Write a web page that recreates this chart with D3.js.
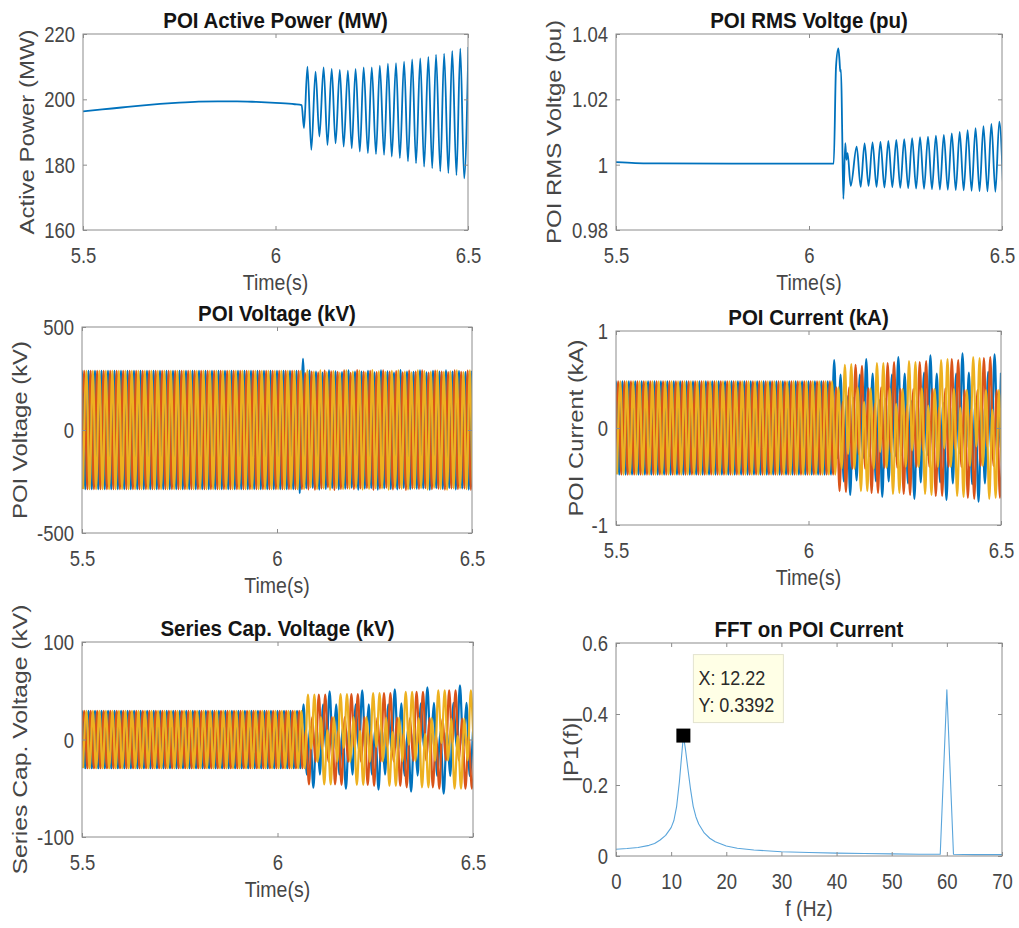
<!DOCTYPE html>
<html><head><meta charset="utf-8">
<script src="https://cdn.jsdelivr.net/npm/d3@7"></script>
<style>
html,body{margin:0;padding:0;background:#fff;}
svg{display:block;font-family:"Liberation Sans",Arial,Helvetica,sans-serif;}
</style></head><body>
<svg id="chart" width="1019" height="928"></svg>
<script>
// ================= DATA =================
const timeTicks = [5.5, 6, 6.5];
const timeTickLabels = ["5.5", "6", "6.5"];

// POI active power (MW)
const powerTicks = [160, 180, 200, 220];
const powerTickLabels = ["160", "180", "200", "220"];
const powerTime = [5.50,5.55,5.60,5.65,5.70,5.75,5.80,5.85,5.90,5.95,6.00,6.05,6.068,6.074,
  6.083,6.093,6.104,6.114,6.125,6.135,6.146,6.156,6.167,6.177,6.188,6.198,6.208,6.219,6.229,6.240,
  6.250,6.261,6.271,6.282,6.292,6.302,6.313,6.323,6.334,6.344,6.355,6.365,6.376,6.386,6.397,6.407,
  6.417,6.428,6.438,6.449,6.459,6.470,6.480,6.490,6.501];
const powerMW = [196.3,196.9,197.5,198.1,198.6,199.0,199.3,199.4,199.4,199.2,198.9,198.5,198.2,191.2,
  210.0,184.5,208.5,188.6,209.8,186.0,209.3,186.5,209.0,185.5,208.8,185.0,209.3,184.0,209.8,183.5,
  209.8,183.2,210.3,183.0,210.9,182.5,211.1,182.0,211.5,181.0,212.2,180.4,212.5,179.4,213.0,178.9,
  213.7,177.9,214.0,177.4,214.8,176.8,215.5,175.8,216.0];

// POI RMS voltage (pu)
const rmsTicks = [0.98, 1, 1.02, 1.04];
const rmsTickLabels = ["0.98", "1", "1.02", "1.04"];
const rmsTime = [5.50,5.55,5.60,5.80,6.00,6.064,6.070,6.076,6.079,6.081,6.083,6.086,6.089,6.094,6.097,6.100,6.108,
  6.1235,6.1338,6.1440,6.1543,6.1646,6.1749,6.1851,6.1954,6.2056,6.2159,6.2262,6.2365,6.2467,6.2570,
  6.2672,6.2775,6.2877,6.2980,6.3083,6.3186,6.3288,6.3391,6.3493,6.3596,6.3699,6.3802,6.3904,6.4007,
  6.4109,6.4212,6.4315,6.4418,6.4520,6.4623,6.4725,6.4828,6.4930,6.5033];
const rmsPU = [1.0008,1.0005,1.0004,1.0003,1.0003,1.0003,1.030,1.0356,1.032,1.0285,1.029,1.010,0.9895,1.0066,1.0015,1.0035,0.9935,
  1.0055,0.9932,1.0065,0.9935,1.0068,0.9932,1.0070,0.9930,1.0073,0.9931,1.0076,0.9929,1.0078,0.9928,
  1.0081,0.9927,1.0084,0.9926,1.0086,0.9925,1.0089,0.9924,1.0091,0.9923,1.0096,0.9922,1.0100,0.9921,
  1.0106,0.9920,1.0112,0.9919,1.0118,0.9918,1.0125,0.9917,1.0132,0.9916];

// Three-phase waveforms: successive extrema, one every half cycle of 60 Hz
const halfCycle = 1 / 120;          // s
const phaseLag = 1 / 180;           // s  (120 degrees)
const firstExtremum = 5.5 - 1 / 120; // s

// POI voltage (kV)
const voltTicks = [-500, 0, 500];
const voltTickLabels = ["-500", "0", "500"];
const voltPre = [
  -287,287,-287,287,-287,287,-287,287,-287,287,-287,287,-287,287,-287,287,-287,287,-287,287,
  -287,287,-287,287,-287,287,-287,287,-287,287,-287,287,-287,287,-287,287,-287,287,-287,287,
  -287,287,-287,287,-287,287,-287,287,-287,287,-287,287,-287,287,-287,287,-287,287,-287,287,
  -287,287,-287,287,-287,287,-287,287];
const voltPostA = [-306,345,-283,288,-281,284,-289,279,-286,290,-282,285,-288,281,-285,289,-280,284,-290,283,-284,
  287,-282,280,-289,290,-283,285,-286,279,-288,291,-281,284,-287,282,-285,289,-283,280,-290,
  287,-282,284,-286,290,-281,283,-288,286,-284,281,-289,288];
const voltPostB = [-287,276,-288,283,-290,280,-284,288,-279,285,-291,282,-286,289,-283,278,-287,291,-284,283,-282,
  287,-290,281,-285,289,-280,284,-288,286,-283,280,-291,288,-284,283,-286,290,-282,279,-287,
  288,-285,283,-289,281,-284,290,-286,282,-283,288,-290,284];
const voltPostC = [-287,290,-279,284,-287,289,-284,281,-290,286,-282,279,-287,290,-285,283,-281,288,-289,280,-286,
  291,-283,285,-284,282,-290,287,-281,289,-285,283,-288,280,-284,290,-282,286,-289,284,-281,
  288,-286,282,-290,285,-283,289,-284,281,-287,290,-282,286];

// POI current (kA)
const currTicks = [-1, 0, 1];
const currTickLabels = ["-1", "0", "1"];
const currPre = [
  -0.48,0.48,-0.48,0.48,-0.48,0.48,-0.48,0.48,-0.48,0.48,-0.48,0.48,-0.48,0.48,-0.48,0.48,-0.48,0.48,-0.48,0.48,
  -0.48,0.48,-0.48,0.48,-0.48,0.48,-0.48,0.48,-0.48,0.48,-0.48,0.48,-0.48,0.48,-0.48,0.48,-0.48,0.48,-0.48,0.48,
  -0.48,0.48,-0.48,0.48,-0.48,0.48,-0.48,0.48,-0.48,0.48,-0.48,0.48,-0.48,0.48,-0.48,0.48,-0.48,0.48,-0.48,0.48,
  -0.48,0.48,-0.48,0.48,-0.48,0.48,-0.48,0.48];
const currPostA = [-0.48,0.70,-0.31,0.55,-0.55,0.33,-0.69,0.31,-0.54,0.55,-0.31,
  0.71,-0.29,0.56,-0.55,0.29,-0.71,0.30,-0.55,0.55,-0.29,
  0.73,-0.28,0.56,-0.57,0.28,-0.73,0.27,-0.56,0.57,-0.28,
  0.75,-0.26,0.56,-0.56,0.26,-0.74,0.26,-0.57,0.56,-0.26,
  0.77,-0.25,0.57,-0.58,0.25,-0.76,0.24,-0.57,0.58,-0.25,
  0.76,-0.24,0.57];
const currPostB = [-0.48,0.42,-0.65,0.27,-0.66,0.42,-0.42,0.65,-0.27,0.64,-0.42,
  0.41,-0.67,0.25,-0.67,0.42,-0.41,0.67,-0.25,0.68,-0.41,
  0.40,-0.68,0.23,-0.69,0.40,-0.40,0.68,-0.23,0.69,-0.40,
  0.40,-0.70,0.21,-0.70,0.41,-0.40,0.71,-0.21,0.70,-0.40,
  0.39,-0.72,0.19,-0.73,0.39,-0.39,0.72,-0.19,0.73,-0.39,
  0.39,-0.72,0.19];
const currPostC = [-0.48,0.42,-0.42,0.65,-0.27,0.66,-0.42,0.42,-0.65,0.27,-0.65,
  0.41,-0.42,0.67,-0.25,0.67,-0.41,0.41,-0.68,0.25,-0.67,
  0.40,-0.40,0.69,-0.23,0.68,-0.40,0.41,-0.68,0.23,-0.69,
  0.40,-0.40,0.70,-0.21,0.71,-0.40,0.40,-0.70,0.21,-0.71,
  0.39,-0.39,0.73,-0.19,0.72,-0.39,0.39,-0.73,0.19,-0.72,
  0.39,-0.39,0.74];

// Series capacitor voltage (kV)
const capTicks = [-100, 0, 100];
const capTickLabels = ["-100", "0", "100"];
const capPre = [
  -29.5,29.5,-29.5,29.5,-29.5,29.5,-29.5,29.5,-29.5,29.5,-29.5,29.5,-29.5,29.5,-29.5,29.5,-29.5,29.5,-29.5,29.5,
  -29.5,29.5,-29.5,29.5,-29.5,29.5,-29.5,29.5,-29.5,29.5,-29.5,29.5,-29.5,29.5,-29.5,29.5,-29.5,29.5,-29.5,29.5,
  -29.5,29.5,-29.5,29.5,-29.5,29.5,-29.5,29.5,-29.5,29.5,-29.5,29.5,-29.5,29.5,-29.5,29.5,-29.5,29.5,-29.5,29.5,
  -29.5,29.5,-29.5,29.5,-29.5,29.5,-29.5,29.5];
const capPostA = [-29.5,36,-36,13,-49.5,13,-36,36,-13,49.5,-13,
  36,-36,12,-50.5,12,-36,36,-12,50.5,-12,
  36,-36,12,-51.5,12,-36,36,-12,51.5,-12,
  37,-37,10,-53.5,10,-37,37,-10,53.5,-10,
  37.5,-37.5,8.5,-55.5,8.5,-37.5,37.5,-8.5,55.5,-8.5,
  37.5,-37.5,8.5];
const capPostB = [-29.5,9.5,-46,23,-23,46,-9.5,46,-23,23,-46,
  8.5,-46.5,23,-23,46.5,-8.5,46.5,-23,23,-46.5,
  7.5,-47.5,22.5,-22.5,47.5,-7.5,47.5,-22.5,22.5,-47.5,
  5.5,-49,22,-22,49,-5.5,49,-22,22,-49,
  3.5,-50.5,21.5,-21.5,50.5,-3.5,50.5,-21.5,21.5,-50.5,
  3.5,-50.5,21.5];
const capPostC = [-29.5,46,-9.5,46,-23,23,-46,9.5,-46,23,-23,
  46.5,-8.5,46.5,-23,23,-46.5,8.5,-46.5,23,-23,
  47.5,-7.5,47.5,-22.5,22.5,-47.5,7.5,-47.5,22.5,-22.5,
  49,-5.5,49,-22,22,-49,5.5,-49,22,-22,
  50.5,-3.5,50.5,-21.5,21.5,-50.5,3.5,-50.5,21.5,-21.5,
  50.5,-3.5,50.5];

// FFT on POI current
const fftTicksX = [0, 10, 20, 30, 40, 50, 60, 70];
const fftTickLabelsX = ["0", "10", "20", "30", "40", "50", "60", "70"];
const fftTicksY = [0, 0.2, 0.4, 0.6];
const fftTickLabelsY = ["0", "0.2", "0.4", "0.6"];
const fftFreq = [0,2,4,6,7,8,9,10,10.5,11,11.5,12,12.22,12.6,13,13.5,14,14.5,15,16,17,18,20,22,25,30,35,40,45,50,55,58.8,60,61.2,65,70];
const fftMag = [0.019,0.021,0.024,0.030,0.035,0.045,0.058,0.080,0.100,0.140,0.210,0.300,0.3392,0.300,0.250,0.190,0.140,0.110,0.090,0.065,
  0.050,0.040,0.028,0.022,0.017,0.012,0.010,0.008,0.007,0.006,0.005,0.005,0.468,0.005,0.004,0.004];
const tipX = 12.22, tipY = 0.3392;
const tipLabels = ["X: 12.22", "Y: 0.3392"];

// ================= STYLE / LAYOUT =================
const BLUE = "#0072BD", ORANGE = "#D95319", YELLOW = "#EDB120";
const AX = "#8c8c8c", TXT = "#464646", TITLE = "#141414";
const S = 1.15;          // vertical stretch of the original figure
const TICK_FS = 18.5, LABEL_FS = 19.5, TITLE_FS = 20.5;

function phase(values, p) {
  return values.map((v, k) => [firstExtremum + p * phaseLag + k * halfCycle, v]);
}
function threePhase(pre, a, b, c, w) {
  return [
    {pts: phase(pre.concat(a), 0), color: BLUE, w: w},
    {pts: phase(pre.concat(b), 1), color: ORANGE, w: w},
    {pts: phase(pre.concat(c), 2), color: YELLOW, w: w}
  ];
}

const panels = [
  {id: "p1", l: 83, t: 34, r: 468, b: 230, title: "POI Active Power (MW)", xlabel: "Time(s)",
   ylabel: "Active Power (MW)", ylx: 27, yll: 205,
   xDomain: [5.5, 6.5], yDomain: [160, 220], xTicks: timeTicks, xTickLabels: timeTickLabels,
   yTicks: powerTicks, yTickLabels: powerTickLabels,
   series: [{pts: d3.zip(powerTime, powerMW), color: BLUE, w: 1.8}]},
  {id: "p2", l: 616, t: 34, r: 1002, b: 230, title: "POI RMS Voltge (pu)", xlabel: "Time(s)",
   ylabel: "POI RMS Voltge (pu)", ylx: 554, yll: 224,
   xDomain: [5.5, 6.5], yDomain: [0.98, 1.04], xTicks: timeTicks, xTickLabels: timeTickLabels,
   yTicks: rmsTicks, yTickLabels: rmsTickLabels,
   series: [{pts: d3.zip(rmsTime, rmsPU), color: BLUE, w: 1.8}]},
  {id: "p3", l: 82, t: 327, r: 472, b: 533, title: "POI Voltage (kV)", xlabel: "Time(s)",
   ylabel: "POI Voltage (kV)", ylx: 20, yll: 178,
   xDomain: [5.5, 6.5], yDomain: [-500, 500], xTicks: timeTicks, xTickLabels: timeTickLabels,
   yTicks: voltTicks, yTickLabels: voltTickLabels,
   series: threePhase(voltPre, voltPostA, voltPostB, voltPostC, 2.2)},
  {id: "p4", l: 616, t: 331, r: 1001, b: 525, title: "POI Current (kA)", xlabel: "Time(s)",
   ylabel: "POI Current (kA)", ylx: 576, yll: 177,
   xDomain: [5.5, 6.5], yDomain: [-1, 1], xTicks: timeTicks, xTickLabels: timeTickLabels,
   yTicks: currTicks, yTickLabels: currTickLabels,
   series: threePhase(currPre, currPostA, currPostB, currPostC, 2.2)},
  {id: "p5", l: 82, t: 642, r: 473, b: 837, title: "Series Cap. Voltage (kV)", xlabel: "Time(s)",
   ylabel: "Series Cap. Voltage (kV)", ylx: 20, yll: 270,
   xDomain: [5.5, 6.5], yDomain: [-100, 100], xTicks: timeTicks, xTickLabels: timeTickLabels,
   yTicks: capTicks, yTickLabels: capTickLabels,
   series: threePhase(capPre, capPostA, capPostB, capPostC, 2.2)},
  {id: "p6", l: 616, t: 643, r: 1002, b: 856, title: "FFT on POI Current", xlabel: "f (Hz)",
   ylabel: "|P1(f)|", ylx: 571, yll: 66,
   xDomain: [0, 70], yDomain: [0, 0.6], xTicks: fftTicksX, xTickLabels: fftTickLabelsX,
   yTicks: fftTicksY, yTickLabels: fftTickLabelsY, curve: d3.curveLinear,
   series: [{pts: d3.zip(fftFreq, fftMag), color: "#5aa5db", w: 1.1}],
   tip: true}
];

// ================= DRAW =================
const svg = d3.select("#chart");
const defs = svg.append("defs");

function hText(g, x, y, str, fs, opts = {}) {
  return g.append("text")
    .attr("transform", `translate(${x},${y}) scale(1,${opts.s || S})`)
    .attr("text-anchor", opts.anchor || "middle")
    .attr("font-size", fs)
    .attr("font-weight", opts.bold ? "bold" : null)
    .attr("fill", opts.fill || TXT)
    .text(str);
}

function styleAxis(sel) {
  sel.attr("font-size", null).attr("font-family", null);
  sel.select(".domain").remove();
  sel.selectAll(".tick line").attr("stroke", AX).attr("stroke-width", 1);
}

panels.forEach(cfg => {
  const g = svg.append("g").attr("id", cfg.id);
  const x = d3.scaleLinear().domain(cfg.xDomain).range([cfg.l, cfg.r]);
  const y = d3.scaleLinear().domain(cfg.yDomain).range([cfg.b, cfg.t]);

  defs.append("clipPath").attr("id", "clip-" + cfg.id)
    .append("rect").attr("x", cfg.l).attr("y", cfg.t)
    .attr("width", cfg.r - cfg.l).attr("height", cfg.b - cfg.t);

  const lines = g.append("g").attr("clip-path", `url(#clip-${cfg.id})`);
  const lineGen = d3.line().x(d => x(d[0])).y(d => y(d[1])).curve(cfg.curve || d3.curveMonotoneX);
  cfg.series.forEach(s => {
    lines.append("path").datum(s.pts).attr("d", lineGen)
      .attr("fill", "none").attr("stroke", s.color).attr("stroke-width", s.w)
      .attr("stroke-linejoin", "round");
  });

  const tl = 4;
  // bottom
  const gb = g.append("g").attr("transform", `translate(0,${cfg.b})`)
    .call(d3.axisBottom(x).tickValues(cfg.xTicks).tickFormat((d, i) => cfg.xTickLabels[i])
      .tickSizeInner(-tl).tickSizeOuter(0));
  styleAxis(gb);
  gb.selectAll(".tick text").attr("y", null).attr("dy", null)
    .attr("transform", `translate(0,33) scale(1,${S})`)
    .attr("font-size", TICK_FS).attr("fill", TXT);
  // top
  const gt = g.append("g").attr("transform", `translate(0,${cfg.t})`)
    .call(d3.axisTop(x).tickValues(cfg.xTicks).tickFormat(() => "").tickSizeInner(-tl).tickSizeOuter(0));
  styleAxis(gt);
  // left
  const gl = g.append("g").attr("transform", `translate(${cfg.l},0)`)
    .call(d3.axisLeft(y).tickValues(cfg.yTicks).tickFormat((d, i) => cfg.yTickLabels[i])
      .tickSizeInner(-tl).tickSizeOuter(0));
  styleAxis(gl);
  gl.selectAll(".tick text").attr("x", null).attr("dy", null)
    .attr("transform", `translate(-8,${0.36 * TICK_FS * S}) scale(1,${S})`)
    .attr("font-size", TICK_FS).attr("fill", TXT);
  // right
  const gr = g.append("g").attr("transform", `translate(${cfg.r},0)`)
    .call(d3.axisRight(y).tickValues(cfg.yTicks).tickFormat(() => "").tickSizeInner(-tl).tickSizeOuter(0));
  styleAxis(gr);

  // box
  g.append("rect").attr("x", cfg.l).attr("y", cfg.t)
    .attr("width", cfg.r - cfg.l).attr("height", cfg.b - cfg.t)
    .attr("fill", "none").attr("stroke", AX).attr("stroke-width", 1);

  // title, x label, y label
  hText(g, (cfg.l + cfg.r) / 2, cfg.t - 6, cfg.title, TITLE_FS, {bold: true, fill: TITLE, s: 1.05});
  hText(g, (cfg.l + cfg.r) / 2, cfg.b + 60, cfg.xlabel, LABEL_FS);
  g.append("text")
    .attr("transform", `translate(${cfg.ylx},${(cfg.t + cfg.b) / 2}) rotate(-90)`)
    .attr("text-anchor", "middle").attr("dominant-baseline", "central")
    .attr("font-size", LABEL_FS).attr("fill", TXT)
    .attr("textLength", cfg.yll).attr("lengthAdjust", "spacingAndGlyphs")
    .text(cfg.ylabel);

  // data tip
  if (cfg.tip) {
    const mx = x(tipX), my = y(tipY);
    g.append("rect").attr("x", mx - 7).attr("y", my - 7).attr("width", 14).attr("height", 14)
      .attr("fill", "#000");
    const bx = mx + 10, by = my - 81;
    g.append("rect").attr("x", bx).attr("y", by).attr("width", 90).attr("height", 68)
      .attr("fill", "#ffffe6").attr("stroke", "#e3e3cf").attr("stroke-width", 1);
    tipLabels.forEach((s, i) => {
      hText(g, bx + 5, by + 30 + i * 27, s, 18, {anchor: "start", fill: "#2a2a2a"});
    });
  }
});
</script>
</body></html>
